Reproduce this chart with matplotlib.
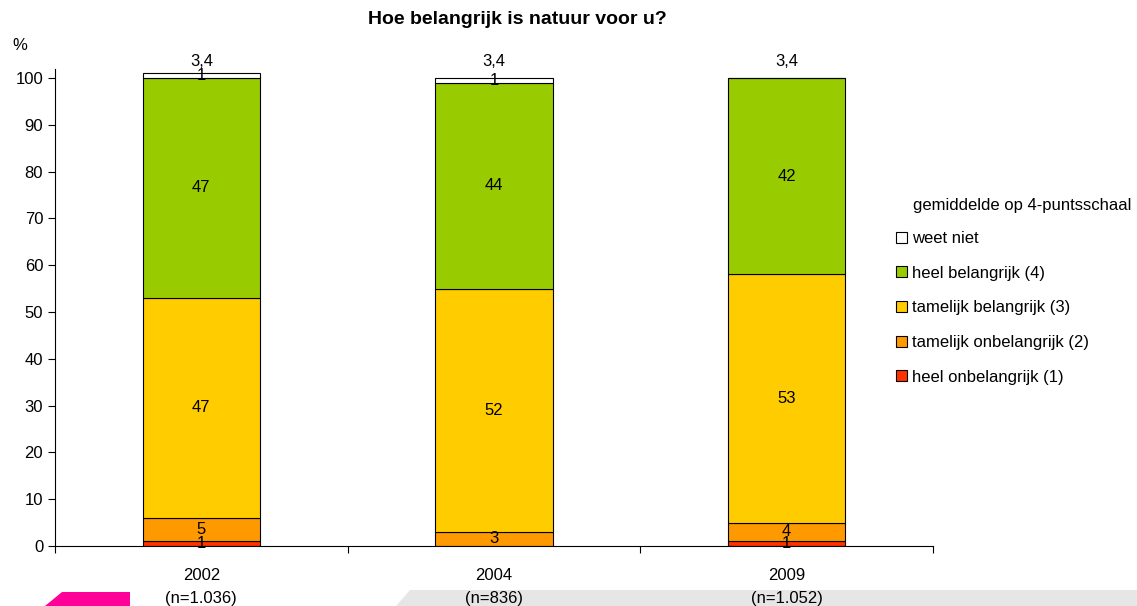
import matplotlib.pyplot as plt
import matplotlib.patches as mpatches
import numpy as np

# data
years = ["2002\n(n=1.036)", "2004\n(n=836)", "2009\n(n=1.052)"]
heel_onbelangrijk = [1, 0, 1]
tamelijk_onbelangrijk = [5, 3, 4]
tamelijk_belangrijk = [47, 52, 53]
heel_belangrijk = [47, 44, 42]
weet_niet = [1, 1, 0]
gemiddelde = ["3,4", "3,4", "3,4"]

series = [heel_onbelangrijk, tamelijk_onbelangrijk, tamelijk_belangrijk, heel_belangrijk, weet_niet]
names = ["heel onbelangrijk (1)", "tamelijk onbelangrijk (2)", "tamelijk belangrijk (3)",
         "heel belangrijk (4)", "weet niet"]
colors = ["#FF3300", "#FF9900", "#FFCC00", "#99CC00", "#FFFFFF"]

plt.rcParams['font.family'] = ['Liberation Sans', 'DejaVu Sans']
FS = 12

fig = plt.figure(figsize=(11.37, 6.06), dpi=100)
ax = fig.add_axes([55/1137, 1-546/606, (933-55)/1137, (546-69)/606])

x = np.arange(len(years))
bottom = np.zeros(len(years))
handles = []
for vals, name, col in zip(series, names, colors):
    vals = np.array(vals, dtype=float)
    ax.bar(x, vals, 0.4, bottom=bottom, color=col, edgecolor='black', linewidth=0.8)
    for i, v in enumerate(vals):
        if v > 0:
            ax.text(x[i], bottom[i] + v / 2, f"{int(v)}", ha='center', va='center', fontsize=FS)
    bottom += vals
    handles.append(mpatches.Patch(facecolor=col, edgecolor='black', linewidth=0.8, label=name))

# mean on the 4-point scale above each bar
for i, g in enumerate(gemiddelde):
    ax.text(x[i], 103.5, g, ha='center', va='center', fontsize=FS, clip_on=False)

ax.set_xlim(-0.5, 2.5)
ax.set_ylim(0, 101.9)
ax.set_yticks(np.arange(0, 101, 10))
ax.tick_params(axis='y', labelsize=FS, direction='out', length=5, width=0.8)
ax.set_xticks(x)
ax.set_xticklabels(years, fontsize=FS, linespacing=1.65)
ax.tick_params(axis='x', length=0, pad=16)
ax.set_xticks([-0.5, 0.5, 1.5, 2.5], minor=True)
ax.tick_params(axis='x', which='minor', length=5, width=0.8, direction='out')
for s in ['top', 'right']:
    ax.spines[s].set_visible(False)
ax.spines['left'].set_linewidth(0.8)
ax.spines['bottom'].set_linewidth(0.8)

fig.text(517/1137, 1-20/606, "Hoe belangrijk is natuur voor u?", ha='center', va='center',
         fontsize=14, fontweight='bold')
fig.text(20/1137, 1-45/606, "%", ha='center', va='center', fontsize=FS)

leg = fig.legend(handles[::-1], names[::-1], loc='upper left',
                 bbox_to_anchor=(881/1137, 1-183/606), frameon=False,
                 title="gemiddelde op 4-puntsschaal", title_fontsize=FS, fontsize=FS,
                 alignment='left', handlelength=0.65, handleheight=0.65,
                 handletextpad=0.3, labelspacing=1.18)
leg._legend_box.sep = 13
leg.get_title().set_position((17, 0))

# page decorations at the bottom
fig.patches.append(mpatches.Polygon([[45/1137, 0], [62/1137, 14/606], [130/1137, 14/606], [130/1137, 0]],
                                    closed=True, transform=fig.transFigure, facecolor='#FF0099',
                                    edgecolor='none'))
fig.patches.append(mpatches.Polygon([[396/1137, 0], [410/1137, 16/606], [1137/1137, 16/606], [1, 0]],
                                    closed=True, transform=fig.transFigure, facecolor='#E6E6E6',
                                    edgecolor='none', zorder=-1))

fig.savefig("out.png", dpi=100)
